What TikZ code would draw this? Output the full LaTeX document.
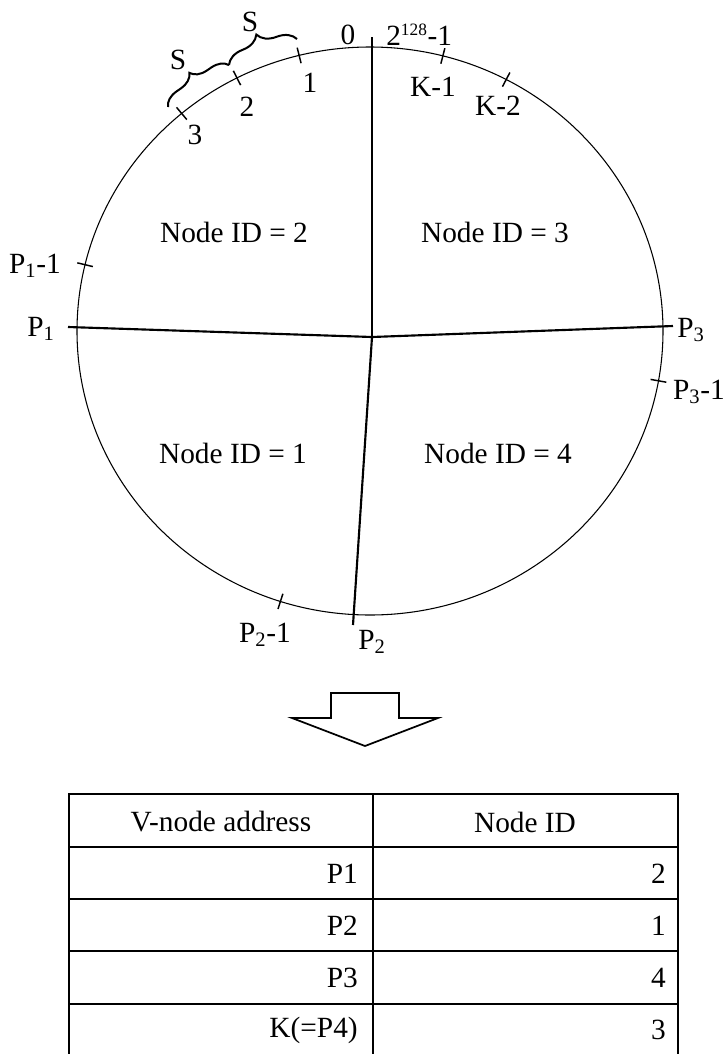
\documentclass[tikz,border=0pt]{standalone}
\usepackage{fontspec}
\setmainfont{Liberation Serif}
\usetikzlibrary{decorations.pathreplacing}
\begin{document}
\begin{tikzpicture}[x=0.75pt,y=-0.75pt,
  lbl/.style={inner sep=0pt, font=\fontsize{22}{25}\selectfont},
  ring/.style={line width=0.8pt},
  spoke/.style={line width=1.6pt},
  tickmark/.style={line width=1.1pt},
  bracemark/.style={line width=1.5pt, decorate, decoration={brace, amplitude=#1}},
  grid/.style={line width=1.6pt},
  bigarrow/.style={line width=1.3pt, line join=miter}]
\useasboundingbox (0,0) rectangle (723,1054);

% ring of the address space
\coordinate (E) at (370,331);
\draw[ring] (E) ellipse [x radius=293, y radius=284];

% partition spokes
\coordinate (c) at (372,337);
\coordinate (top) at (372,37);
\coordinate (p1) at (68,327);
\coordinate (p3) at (673,326);
\coordinate (p2) at (353,625);
\draw[spoke] (c) -- (top);
\draw[spoke] (c) -- (p1);
\draw[spoke] (c) -- (p3);
\draw[spoke] (c) -- (p2);

% short address ticks on the ring
\foreach \a in {256,243,230,284.4,297.7,193.5,10.1,107.8}
  \draw[tickmark] ([shift={(\a:285 and 276)}]E) -- ([shift={(\a:301 and 292)}]E);

% interval braces
\coordinate (b3) at (168,107);
\coordinate (b2) at (229,65);
\coordinate (b1) at (297,39);
\draw[bracemark=12pt] (b3) -- (b2);
\draw[bracemark=14pt] (b2) -- (b1);
\node[lbl] (s1) at (250,22) {S};
\node[lbl] (s2) at (178,60) {S};

% ring labels
\node[lbl] (l0) at (348,35) {0};
\node[lbl, anchor=west] (lmax) at (386,35) {2\textsuperscript{\fontsize{13}{14}\selectfont 128}-1};
\node[lbl] (l1) at (310,83) {1};
\node[lbl] (l2) at (247,107) {2};
\node[lbl] (l3) at (195,135) {3};
\node[lbl] (lk1) at (433,87) {K-1};
\node[lbl] (lk2) at (498,106) {K-2};
\node[lbl] (lp11) at (35,266) {P\textsubscript{1}-1};
\node[lbl] (lp1) at (41,329) {P\textsubscript{1}};
\node[lbl] (lp3) at (691,330) {P\textsubscript{3}};
\node[lbl] (lp31) at (699,392) {P\textsubscript{3}-1};
\node[lbl] (lp21) at (265,635) {P\textsubscript{2}-1};
\node[lbl] (lp2) at (372,642) {P\textsubscript{2}};

% owners of the four arcs
\node[lbl] (n2) at (234,232) {Node ID = 2};
\node[lbl] (n3) at (495,232) {Node ID = 3};
\node[lbl] (n1) at (233,453) {Node ID = 1};
\node[lbl] (n4) at (498,453) {Node ID = 4};

% block arrow
\draw[bigarrow] (331,693) -- (399,693) -- (399,718) -- (438,718) -- (365,746)
  -- (292,718) -- (331,718) -- cycle;

% mapping table (open at the bottom)
\draw[grid] (69,1054) -- (69,794) -- (678,794) -- (678,1054);
\draw[grid] (373,794) -- (373,1054);
\foreach \y in {847,899,951,1004}
  \draw[grid] (69,\y) -- (678,\y);
\node[lbl] (h1) at (221,822) {V-node address};
\node[lbl] (h2) at (525,822) {Node ID};
\node[lbl, anchor=east] (a1) at (358,874) {P1};
\node[lbl, anchor=east] (a2) at (358,926) {P2};
\node[lbl, anchor=east] (a3) at (358,978) {P3};
\node[lbl, anchor=east] (a4) at (358,1030) {K(=P4)};
\node[lbl, anchor=east] (i1) at (666,874) {2};
\node[lbl, anchor=east] (i2) at (666,926) {1};
\node[lbl, anchor=east] (i3) at (666,978) {4};
\node[lbl, anchor=east] (i4) at (666,1030) {3};
\end{tikzpicture}
\end{document}
